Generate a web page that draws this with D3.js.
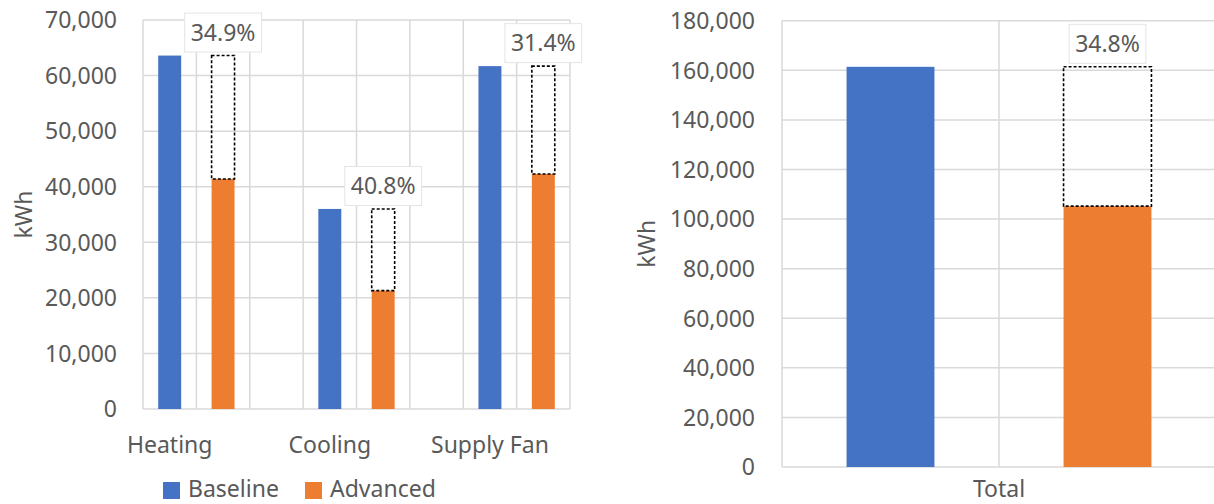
<!DOCTYPE html>
<html>
<head>
<meta charset="utf-8">
<script src="https://cdn.jsdelivr.net/npm/d3@7"></script>
<style>
  html, body { margin: 0; padding: 0; background: #fff; }
  svg { display: block; font-family: "Noto Sans", "Open Sans", sans-serif; }
</style>
</head>
<body>
<svg id="chart" width="1214" height="504"></svg>
<script>
// ---- Data ----
const categories = ["Heating", "Cooling", "Supply Fan"];
const baselineValues = [63600, 36000, 61700];
const advancedValues = [41400, 21300, 42300];
const savingLabels = ["34.9%", "40.8%", "31.4%"];
const leftTicks = [0, 10000, 20000, 30000, 40000, 50000, 60000, 70000];

const totalCategory = "Total";
const totalBaseline = 161400;
const totalAdvanced = 105200;
const totalSavingLabel = "34.8%";
const rightTicks = [0, 20000, 40000, 60000, 80000, 100000, 120000, 140000, 160000, 180000];

const seriesNames = ["Baseline", "Advanced"];
const seriesColors = ["#4472C4", "#ED7D31"];

// ---- Styles ----
const textColor = "#595959";
const gridColor = "#d9d9d9";
const fontSize = 23;
const fmt = d3.format(",");

const svg = d3.select("#chart");

function drawLabelBox(g, cx, bottomY, text) {
  const grp = g.append("g");
  const t = grp.append("text")
    .attr("x", cx)
    .attr("y", 0)
    .attr("text-anchor", "middle")
    .attr("font-size", fontSize)
    .attr("fill", textColor)
    .text(text);
  const bb = t.node().getBBox();
  const w = bb.width + 12, h = 39;
  const top = bottomY - h;
  grp.insert("rect", "text")
    .attr("x", cx - w / 2)
    .attr("y", top)
    .attr("width", w)
    .attr("height", h)
    .attr("fill", "#fff")
    .attr("stroke", "#e4e4e4")
    .attr("stroke-width", 1);
  t.attr("y", top + h / 2).attr("dy", "0.36em");
}

// ================= LEFT CHART =================
(function () {
  const left = 143, right = 570, top = 20, bottom = 409;
  const slots = [];
  categories.forEach((c, i) => {
    slots.push(c + "|0", c + "|1");
    if (i < categories.length - 1) slots.push(c + "|gap");
  });
  const gridX = d3.scaleBand().domain(slots).range([left, right]).padding(0);
  const p = 0.57;
  const x = d3.scaleBand().domain(slots).range([left, right]).paddingInner(p).paddingOuter(p / 2);
  const y = d3.scaleLinear().domain([0, 70000]).range([bottom, top]);

  const g = svg.append("g");

  g.selectAll("line.hgrid").data(leftTicks).join("line")
    .attr("x1", left).attr("x2", right)
    .attr("y1", d => y(d)).attr("y2", d => y(d))
    .attr("stroke", gridColor).attr("stroke-width", 1.5);
  const vx = slots.map(s => gridX(s)).concat([right]);
  g.selectAll("line.vgrid").data(vx).join("line")
    .attr("x1", d => d).attr("x2", d => d)
    .attr("y1", top).attr("y2", bottom)
    .attr("stroke", gridColor).attr("stroke-width", 1.5);

  g.selectAll("text.ytick").data(leftTicks).join("text")
    .attr("x", 117).attr("y", d => y(d)).attr("dy", "0.36em")
    .attr("text-anchor", "end").attr("font-size", fontSize).attr("fill", textColor)
    .text(d => fmt(d));

  g.append("text")
    .attr("transform", `translate(32,${(top + bottom) / 2}) rotate(-90)`)
    .attr("text-anchor", "middle").attr("font-size", fontSize).attr("fill", textColor)
    .text("kWh");

  categories.forEach((c, i) => {
    const bx = x(c + "|0"), ax = x(c + "|1"), bw = x.bandwidth();
    g.append("rect")
      .attr("x", bx).attr("y", y(baselineValues[i]))
      .attr("width", bw).attr("height", y(0) - y(baselineValues[i]))
      .attr("fill", seriesColors[0]);
    g.append("rect")
      .attr("x", ax).attr("y", y(advancedValues[i]))
      .attr("width", bw).attr("height", y(0) - y(advancedValues[i]))
      .attr("fill", seriesColors[1]);
    g.append("rect")
      .attr("x", ax).attr("y", y(baselineValues[i]))
      .attr("width", bw).attr("height", y(advancedValues[i]) - y(baselineValues[i]))
      .attr("fill", "none").attr("stroke", "#000").attr("stroke-width", 1.6)
      .attr("stroke-dasharray", "3,2");
    drawLabelBox(g, ax + bw / 2, y(baselineValues[i]) - 3.5, savingLabels[i]);
    g.append("text")
      .attr("x", gridX(c + "|0") + gridX.bandwidth() / 2)
      .attr("y", 453)
      .attr("text-anchor", "middle").attr("font-size", fontSize).attr("fill", textColor)
      .text(c);
  });

  const legendX = [163, 305];
  seriesNames.forEach((s, i) => {
    g.append("rect")
      .attr("x", legendX[i]).attr("y", 482).attr("width", 17).attr("height", 17)
      .attr("fill", seriesColors[i]);
    g.append("text")
      .attr("x", legendX[i] + 25).attr("y", 497)
      .attr("font-size", fontSize).attr("fill", textColor)
      .text(s);
  });
})();

// ================= RIGHT CHART =================
(function () {
  const left = 782, right = 1216, top = 20.7, bottom = 467;
  const slots = seriesNames;
  const gridX = d3.scaleBand().domain(slots).range([left, right]).padding(0);
  const p = 0.595;
  const x = d3.scaleBand().domain(slots).range([left, right]).paddingInner(p).paddingOuter(p / 2);
  const y = d3.scaleLinear().domain([0, 180000]).range([bottom, top]);
  const values = [totalBaseline, totalAdvanced];

  const g = svg.append("g");

  g.selectAll("line.hgrid").data(rightTicks).join("line")
    .attr("x1", left).attr("x2", right)
    .attr("y1", d => y(d)).attr("y2", d => y(d))
    .attr("stroke", gridColor).attr("stroke-width", 1.5);
  const vx = slots.map(s => gridX(s)).concat([right]);
  g.selectAll("line.vgrid").data(vx).join("line")
    .attr("x1", d => d).attr("x2", d => d)
    .attr("y1", top).attr("y2", bottom)
    .attr("stroke", gridColor).attr("stroke-width", 1.5);

  g.selectAll("text.ytick").data(rightTicks).join("text")
    .attr("x", 755).attr("y", d => y(d)).attr("dy", "0.36em")
    .attr("text-anchor", "end").attr("font-size", fontSize).attr("fill", textColor)
    .text(d => fmt(d));

  g.append("text")
    .attr("transform", `translate(655,${(top + bottom) / 2}) rotate(-90)`)
    .attr("text-anchor", "middle").attr("font-size", fontSize).attr("fill", textColor)
    .text("kWh");

  slots.forEach((s, i) => {
    g.append("rect")
      .attr("x", x(s)).attr("y", y(values[i]))
      .attr("width", x.bandwidth()).attr("height", y(0) - y(values[i]))
      .attr("fill", seriesColors[i]);
  });
  const ax = x(slots[1]), bw = x.bandwidth();
  g.append("rect")
    .attr("x", ax).attr("y", y(totalBaseline))
    .attr("width", bw).attr("height", y(totalAdvanced) - y(totalBaseline))
    .attr("fill", "none").attr("stroke", "#000").attr("stroke-width", 1.6)
    .attr("stroke-dasharray", "3,2");
  drawLabelBox(g, ax + bw / 2, y(totalBaseline) - 3.5, totalSavingLabel);

  g.append("text")
    .attr("x", (left + right) / 2).attr("y", 497)
    .attr("text-anchor", "middle").attr("font-size", fontSize).attr("fill", textColor)
    .text(totalCategory);
})();
</script>
</body>
</html>
